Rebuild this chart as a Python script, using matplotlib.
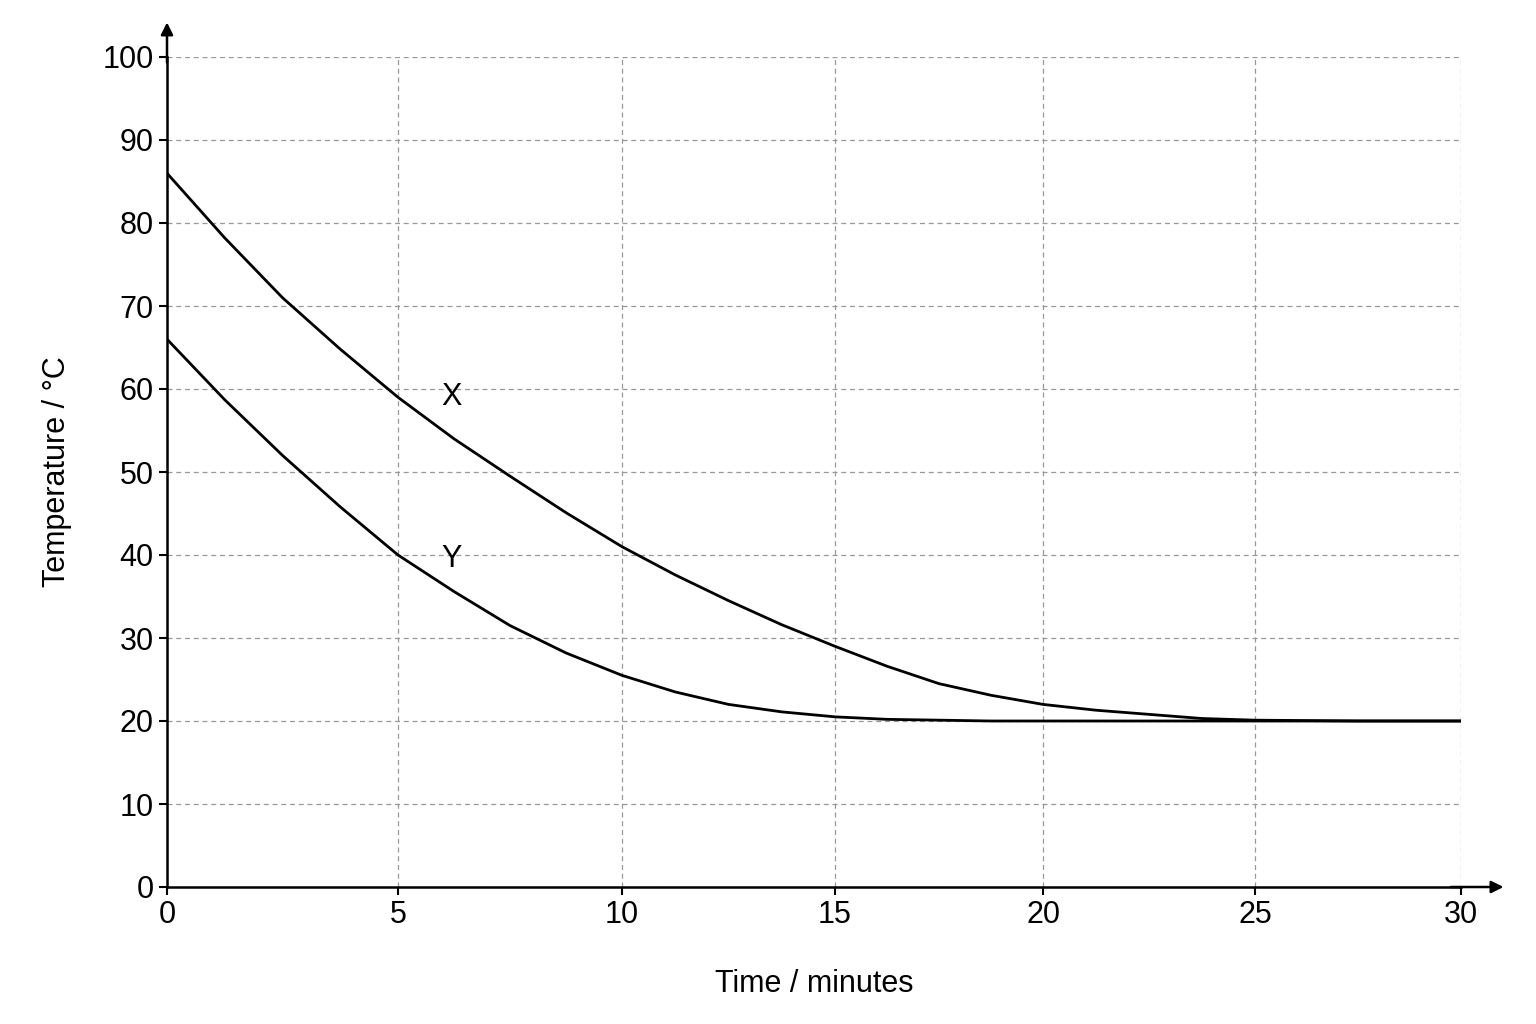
import numpy as np
import matplotlib
matplotlib.use("Agg")
import matplotlib.pyplot as plt

t = [0, 1.25, 2.5, 3.75, 5, 6.25, 7.5, 8.75, 10, 11.25, 12.5, 13.75, 15, 16.25, 17.5, 18.75, 20, 21.25, 22.5, 23.75, 25, 27.5, 30]
temp_x = [86, 78.2, 71, 64.8, 59, 54, 49.5, 45.1, 41, 37.6, 34.5, 31.6, 29, 26.6, 24.5, 23.1, 22, 21.3, 20.8, 20.3, 20.1, 20, 20]
temp_y = [66, 58.7, 52, 45.8, 40, 35.6, 31.5, 28.2, 25.5, 23.5, 22, 21.1, 20.5, 20.2, 20.1, 20, 20, 20, 20, 20, 20, 20, 20]
xticks = [0, 5, 10, 15, 20, 25, 30]
yticks = list(range(0, 101, 10))
tick_px = [167, 398, 622, 835, 1043, 1255, 1461]

plt.rcParams['font.family'] = ['Liberation Sans', 'DejaVu Sans']
fig = plt.figure(figsize=(15.36, 10.24), dpi=100)
ax = fig.add_axes([167/1536, 137/1024, (1461-167)/1536, (887-57)/1024])

fwd = lambda v: np.interp(v, xticks, tick_px)
inv = lambda v: np.interp(v, tick_px, xticks)
ax.set_xscale('function', functions=(fwd, inv))

ax.plot(t, temp_x, color='black', lw=2)
ax.plot(t, temp_y, color='black', lw=2)
ax.text(6.2, 59, 'X', fontsize=22, ha='center', va='center')
ax.text(6.2, 39.5, 'Y', fontsize=22, ha='center', va='center')

ax.set_xlim(0, 30)
ax.set_ylim(0, 100)
ax.set_xticks(xticks)
ax.set_yticks(yticks)
ax.tick_params(labelsize=22, length=6, width=1.5)
ax.grid(True, linestyle=(0, (4, 3)), color='#999999', lw=0.9)
for s in ['top', 'right']:
    ax.spines[s].set_visible(False)
ax.spines['left'].set_linewidth(1.8)
ax.spines['bottom'].set_linewidth(1.8)
ax.annotate('', xy=(1.035, 0), xytext=(0.99, 0), xycoords='axes fraction',
            arrowprops=dict(arrowstyle='-|>', color='black', lw=1.8, mutation_scale=18))
ax.annotate('', xy=(0, 1.045), xytext=(0, 0.99), xycoords='axes fraction',
            arrowprops=dict(arrowstyle='-|>', color='black', lw=1.8, mutation_scale=18))
ax.set_xlabel('Time / minutes', fontsize=22, labelpad=28)
ax.set_ylabel('Temperature / °C', fontsize=22, labelpad=22)
fig.savefig('out.png', dpi=100)
